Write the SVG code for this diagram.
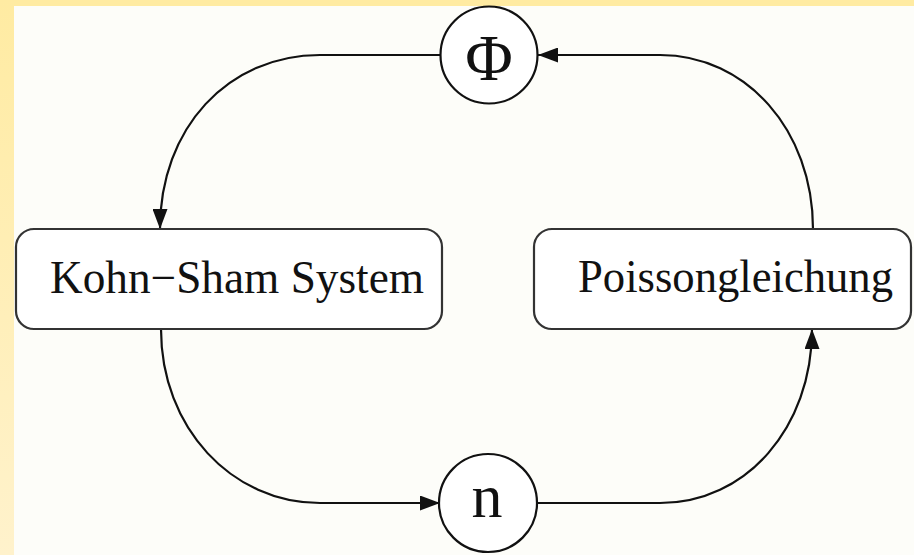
<svg xmlns="http://www.w3.org/2000/svg" width="914" height="555" viewBox="0 0 914 555">
  <defs>
    <linearGradient id="sideband" x1="0" y1="0" x2="0" y2="1">
      <stop offset="0" stop-color="#FFEBA2"/>
      <stop offset="1" stop-color="#FFF2CC"/>
    </linearGradient>
    <marker id="arrow" viewBox="0 0 20 15" refX="20" refY="7.5" markerWidth="20" markerHeight="15" markerUnits="userSpaceOnUse" orient="auto">
      <path d="M0,0 L20,7.5 L0,15 Z" fill="#111"/>
    </marker>
    <style>
      .box { fill: #FFFFFF; stroke: #333; stroke-width: 2.2; }
      .node { fill: #FFFFFF; stroke: #111; stroke-width: 2.2; }
      .label { font-family: "Liberation Serif", "Times New Roman", serif; fill: #111; }
      .edge { fill: none; stroke: #111; stroke-width: 2.2; marker-end: url(#arrow); }
    </style>
  </defs>

  <!-- page background with coloured margins -->
  <rect x="0" y="0" width="914" height="555" fill="#FDFDF9"/>
  <rect x="0" y="0" width="914" height="6" fill="#FFEBA2"/>
  <rect x="0" y="0" width="14" height="555" fill="url(#sideband)"/>

  <!-- connectors -->
  <g id="connectors">
    <!-- Phi -> Kohn-Sham -->
    <path class="edge" d="M440,55 L320,55 C228,55 160,128 160,229"/>
    <!-- Kohn-Sham -> n -->
    <path class="edge" d="M161,329 C161,428 232,503 320,503 L440,503"/>
    <!-- n -> Poisson -->
    <path class="edge" d="M538,503 L660,503 C746,503 812,428 812,329"/>
    <!-- Poisson -> Phi -->
    <path class="edge" d="M813,229 C813,130 746,55 660,55 L538,55"/>
  </g>

  <g id="phi">
    <circle class="node" cx="489" cy="55" r="48.5"/>
    <text class="label" x="489" y="80" font-size="65" text-anchor="middle">Φ</text>
  </g>

  <g id="kohn-sham">
    <rect class="box" x="16" y="229" width="426" height="100" rx="18"/>
    <text class="label" x="50" y="293" font-size="46" textLength="374" lengthAdjust="spacingAndGlyphs">Kohn−Sham System</text>
  </g>

  <g id="poisson">
    <rect class="box" x="534" y="229" width="377" height="100" rx="18"/>
    <text class="label" x="578" y="292" font-size="46" textLength="315" lengthAdjust="spacingAndGlyphs">Poissongleichung</text>
  </g>

  <g id="n">
    <circle class="node" cx="488" cy="503" r="49"/>
    <text class="label" x="487" y="517" font-size="62" text-anchor="middle">n</text>
  </g>
</svg>
